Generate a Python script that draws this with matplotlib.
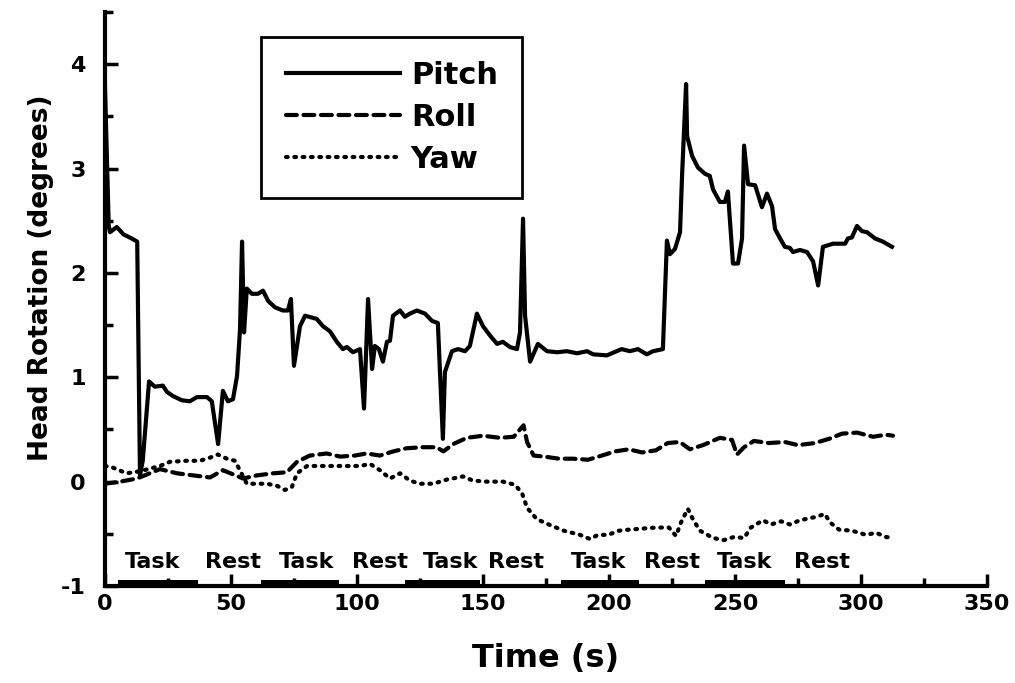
import numpy as np
import matplotlib.pyplot as plt

plt.rcParams['font.family'] = 'DejaVu Sans'
plt.rcParams['font.weight'] = 'bold'
plt.rcParams['axes.unicode_minus'] = False

# head rotation traces (degrees) against time (s)
pitch_t = [0, 1.5, 2, 4.7, 7.3, 10.6, 12.8, 13.9, 15, 17.5, 19.8, 23, 24.6, 27, 30.5, 33.7,
           36.5, 40.5, 42.4, 44.9, 46.8, 48.8, 50.8, 52.4, 53.6, 54.4, 55.2, 56.3, 58.3,
           60.7, 62.7, 64.8, 67.5, 70.6, 72.6, 73.8, 75, 77.4, 79.4, 84, 86.5, 89.3, 92,
           94.4, 96, 98.4, 101.2, 102.8, 104.4, 106, 107.1, 108.7, 110.3, 111.9, 113.1,
           114.3, 117.1, 119, 121, 123.8, 127, 129.8, 132.1, 134.1, 134.9, 137.7, 140.1,
           142.9, 144.8, 147.6, 150, 152.8, 155.6, 157.9, 160.7, 163.5, 164.7, 165.9,
           166.7, 168.7, 171.8, 175.4, 179.4, 183.3, 187.3, 191.3, 193.7, 199.2, 205,
           208.3, 211.5, 215, 217.5, 221.4, 223, 224.2, 226.2, 228.2, 229, 230.6, 231,
           233, 235.3, 238.1, 240, 241.3, 244, 246, 247.2, 249.2, 251.2, 252.8, 253.6,
           255.2, 258, 260.7, 262.7, 264.7, 265.9, 267.9, 269.8, 271.8, 273, 275.8, 278.6,
           281, 283, 284.9, 288.9, 293.7, 294.8, 296.4, 298.4, 300.4, 302.4, 305.6, 308.7,
           312.3]
pitch = [3.8, 2.45, 2.39, 2.44, 2.37, 2.33, 2.30, 0.06, 0.2, 0.96, 0.91, 0.92, 0.86, 0.82,
         0.78, 0.77, 0.81, 0.81, 0.77, 0.36, 0.87, 0.77, 0.79, 1.01, 1.46, 2.30, 1.43, 1.85,
         1.80, 1.80, 1.83, 1.73, 1.67, 1.64, 1.64, 1.75, 1.11, 1.49, 1.59, 1.56, 1.49, 1.44,
         1.34, 1.27, 1.29, 1.24, 1.27, 0.70, 1.75, 1.08, 1.30, 1.27, 1.15, 1.34, 1.35, 1.59,
         1.64, 1.58, 1.61, 1.64, 1.61, 1.54, 1.52, 0.41, 1.05, 1.25, 1.27, 1.25, 1.30, 1.61,
         1.49, 1.40, 1.32, 1.34, 1.29, 1.27, 1.43, 2.52, 1.59, 1.15, 1.32, 1.25, 1.24, 1.25,
         1.23, 1.25, 1.22, 1.21, 1.27, 1.25, 1.27, 1.22, 1.25, 1.27, 2.31, 2.18, 2.23, 2.39,
         2.93, 3.81, 3.31, 3.12, 3.01, 2.95, 2.93, 2.80, 2.68, 2.68, 2.78, 2.09, 2.09, 2.33,
         3.22, 2.85, 2.84, 2.63, 2.76, 2.64, 2.42, 2.33, 2.25, 2.24, 2.20, 2.22, 2.20, 2.11,
         1.88, 2.25, 2.28, 2.28, 2.33, 2.34, 2.45, 2.40, 2.39, 2.33, 2.30, 2.25]

roll_t = [0, 6, 12.7, 21.8, 28.6, 35, 41.7, 46.8, 54.8, 60.3, 66.8, 72.2, 76.2, 81.3, 88,
          93.3, 99.2, 103.8, 109.1, 114.4, 119.7, 126.2, 131.6, 134.3, 138.2, 143.6, 150,
          156.7, 162.2, 166.1, 167.5, 170.1, 174.3, 180.2, 185.7, 191.7, 197.2, 202.4,
          207.9, 213.1, 218.6, 223.3, 228.1, 232.1, 237.3, 244, 248.8, 250.8, 253.6,
          257.5, 263.5, 269.8, 275, 281.7, 287.3, 292.5, 298.4, 304.8, 309.9, 312.7]
roll = [-0.02, 0.0, 0.03, 0.12, 0.08, 0.06, 0.04, 0.11, 0.03, 0.06, 0.08, 0.09, 0.19, 0.25,
        0.27, 0.24, 0.25, 0.27, 0.25, 0.29, 0.32, 0.33, 0.33, 0.29, 0.36, 0.42, 0.44, 0.42,
        0.43, 0.54, 0.38, 0.25, 0.24, 0.22, 0.22, 0.21, 0.25, 0.29, 0.31, 0.28, 0.30, 0.37,
        0.38, 0.31, 0.35, 0.42, 0.40, 0.26, 0.33, 0.39, 0.37, 0.38, 0.35, 0.37, 0.41, 0.46,
        0.47, 0.43, 0.45, 0.44]

yaw_t = [0, 2.6, 8.6, 14, 21.8, 25.8, 32.5, 37.7, 41.7, 44.8, 48.4, 51.6, 56.3, 64.2, 68.3,
         71.4, 74.2, 76.2, 80.2, 86.5, 93.3, 101.2, 105.2, 109.1, 113.1, 117.1, 121, 125,
         130.2, 135.7, 142.1, 146, 151.6, 158, 162.7, 165.5, 167.5, 171.4, 177, 182.1,
         188.5, 192.5, 195.6, 199.6, 204, 207.9, 213.1, 218.6, 223.8, 226.6, 228.6, 231.3,
         233.3, 236.1, 241.3, 245.6, 249.6, 253.6, 256.3, 261.1, 264.3, 268.3, 271.8,
         275.8, 281.7, 285.7, 287.7, 291.3, 296.4, 302, 306, 309.9, 312.7]
yaw = [0.15, 0.14, 0.08, 0.1, 0.15, 0.19, 0.20, 0.20, 0.23, 0.26, 0.22, 0.20, -0.02, -0.02,
       -0.04, -0.08, -0.05, 0.08, 0.15, 0.15, 0.15, 0.15, 0.17, 0.11, 0.03, 0.08, 0.01, -0.02,
       -0.02, 0.02, 0.05, 0.01, 0.0, 0.0, -0.03, -0.11, -0.25, -0.36, -0.42, -0.47, -0.51,
       -0.55, -0.51, -0.51, -0.47, -0.46, -0.45, -0.44, -0.44, -0.52, -0.39, -0.26, -0.36,
       -0.47, -0.54, -0.56, -0.53, -0.54, -0.44, -0.37, -0.41, -0.38, -0.41, -0.37, -0.34,
       -0.31, -0.39, -0.46, -0.47, -0.51, -0.49, -0.53, -0.54]

# task blocks along the time axis
task_start = [5, 62, 119, 181, 238]
task_end = [37, 93, 149, 212, 270]
block_labels = ['Task', 'Rest', 'Task', 'Rest', 'Task', 'Rest', 'Task', 'Rest', 'Task', 'Rest']
block_label_t = [18.7, 51, 80, 109, 137, 163, 196, 225, 254, 284.5]

fig = plt.figure(figsize=(10.15, 6.83), dpi=100)
ax = fig.add_axes([0.1034, 0.142, 0.869, 0.8404])

ax.plot(pitch_t, pitch, color='black', lw=3, solid_joinstyle='round', label='Pitch')
ax.plot(roll_t, roll, color='black', lw=3, linestyle=(0, (2.6, 1.6)),
        dash_capstyle='round', label='Roll')
ax.plot(yaw_t, yaw, color='black', lw=3, linestyle=(0, (0.4, 1.6)),
        dash_capstyle='round', label='Yaw')

# raised bar marks each task period
ax.broken_barh([(s, e - s) for s, e in zip(task_start, task_end)], (-1, 0.06),
               facecolors='black', clip_on=False)
for lab, t in zip(block_labels, block_label_t):
    ax.text(t, -0.77, lab, ha='center', va='center', fontsize=16, fontweight='bold')

ax.set_xlim(0, 350)
ax.set_ylim(-1, 4.5)
ax.set_xticks(np.arange(0, 351, 50))
ax.set_xticks(np.arange(25, 351, 50), minor=True)
ax.set_yticks(np.arange(-1, 5, 1))
ax.set_yticks(np.arange(-0.5, 4.6, 1), minor=True)

for side in ['top', 'right']:
    ax.spines[side].set_visible(False)
for side in ['left', 'bottom']:
    ax.spines[side].set_linewidth(3)

ax.tick_params(which='major', direction='in', length=9, width=2.5, labelsize=16)
ax.tick_params(which='minor', direction='in', length=6, width=2.5)
ax.tick_params(axis='x', which='major', pad=6)
ax.tick_params(axis='y', which='major', pad=14)

ax.set_xlabel('Time (s)', fontsize=23, fontweight='bold')
ax.set_ylabel('Head Rotation (degrees)', fontsize=19, fontweight='bold')
ax.xaxis.set_label_coords(0.5, -0.10)
ax.yaxis.set_label_coords(-0.058, 0.537)

leg = ax.legend(loc='upper left', bbox_to_anchor=(0.177, 0.957), borderaxespad=0,
                fontsize=22, handlelength=3.75, handletextpad=0.35, labelspacing=0.42,
                borderpad=0.8, fancybox=False, framealpha=1, edgecolor='black')
leg.get_frame().set_linewidth(2)

fig.savefig('out.png', dpi=100)
